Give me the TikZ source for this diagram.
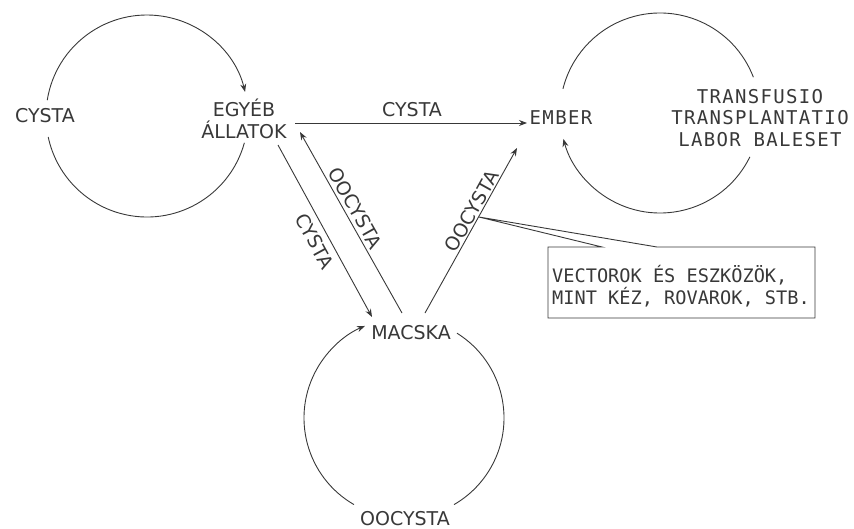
\documentclass[tikz,border=0pt]{standalone}
\usepackage{fontspec}
\setmainfont{DejaVu Sans}
\newfontfamily\monoA[LetterSpace=7]{DejaVu Sans Mono}
\newfontfamily\monoB{DejaVu Sans Mono}
\usetikzlibrary{arrows.meta,calc}
\definecolor{ink}{HTML}{383838}
\begin{document}
\begin{tikzpicture}[x=1pt,y=1pt,
  lbl/.style={font=\fontsize{19}{22}\selectfont, text=ink, inner sep=0pt, align=center},
  mlbl/.style={font=\monoA\fontsize{19}{21.5}\selectfont, text=ink, inner sep=0pt, align=center},
  blbl/.style={font=\monoB\fontsize{18.6}{22}\selectfont, text=ink, inner sep=0pt, align=left},
  con/.style={draw=ink, line width=0.9pt},
  arr/.style={con, -{Stealth[length=8pt,width=6pt]}},
]
\useasboundingbox (0,0) rectangle (854,-528);

% nodes
\node[lbl] (cystaL) at (45,-116) {CYSTA};
\node[lbl] (egy) at (244,-119) {EGYÉB\\ÁLLATOK};
\node[mlbl] (ember) at (561,-118) {EMBER};
\node[mlbl] (trans) at (760,-118) {TRANSFUSIO\\TRANSPLANTATIO\\LABOR BALESET};
\node[lbl] (macska) at (411,-333) {MACSKA};
\node[lbl] (oocB) at (405,-519) {OOCYSTA};
\node[blbl] (box) at (681,-286) {VECTOROK ÉS ESZKÖZÖK,\\MINT KÉZ, ROVAROK, STB.};

% connector end points
\coordinate (hA) at (295,-123);
\coordinate (hB) at (527,-123);
\coordinate (oA) at (402,-313);
\coordinate (oB) at (300,-132);
\coordinate (cA) at (278,-145);
\coordinate (cB) at (372,-317);
\coordinate (rA) at (425,-313);
\coordinate (rB) at (517,-148);
\coordinate (tip) at (479,-217);

% straight arrows
\draw[arr] (hA) -- (hB);
\node[lbl] (lblH) at (412,-110) {CYSTA};
\draw[arr] (oA) -- (oB);
\path (oB) -- node[lbl, sloped, pos=0.45, anchor=south, yshift=3.5pt] (lblO) {OOCYSTA} (oA);
\draw[arr] (cA) -- (cB);
\path (cA) -- node[lbl, sloped, pos=0.52, anchor=north, yshift=-6.5pt] (lblC) {CYSTA} (cB);
\draw[arr] (rA) -- (rB);
\path (rA) -- node[lbl, sloped, pos=0.59, anchor=south, yshift=1.5pt] (lblR) {OOCYSTA} (rB);

% cycles
\coordinate (cL) at (147,-116);
\draw[arr] ($(cL)+(171:101)$) arc[start angle=171, end angle=13.8, radius=101];
\draw[con] ($(cL)+(-15.4:101)$) arc[start angle=-15.4, end angle=-168, radius=101];

\coordinate (cR) at (660,-113);
\draw[con] ($(cR)+(21:100)$) arc[start angle=21, end angle=166, radius=100];
\draw[arr] ($(cR)+(-26:100)$) arc[start angle=-26, end angle=-165, radius=100];

\coordinate (cB0) at (404,-418);
\draw[arr] ($(cB0)+(240:100)$) arc[start angle=240, end angle=113, radius=100];
\draw[con] ($(cB0)+(58:100)$) arc[start angle=58, end angle=-60, radius=100];

% callout box
\draw[con] (602,-247) -- (tip) -- (657,-247) -- (815,-247) -- (815,-318) -- (548,-318) -- (548,-247) -- cycle;
\end{tikzpicture}
\end{document}
